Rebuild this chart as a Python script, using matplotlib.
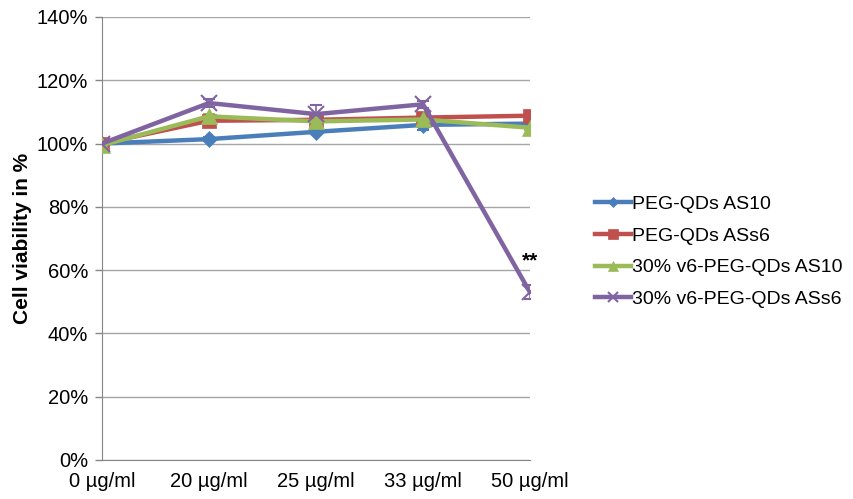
import matplotlib

matplotlib.use("Agg")
import matplotlib.pyplot as plt
from matplotlib.ticker import FuncFormatter

plt.rcParams["font.family"] = ["Liberation Sans", "DejaVu Sans"]

CONCENTRATIONS = ["0 µg/ml", "20 µg/ml", "25 µg/ml", "33 µg/ml", "50 µg/ml"]

PEG_AS10 = [100.0, 101.4, 103.7, 105.9, 106.3]
PEG_AS10_ERR = [0.5, 0.6, 0.8, 1.6, 0.6]
PEG_ASS6 = [100.0, 107.2, 107.5, 108.2, 108.8]
PEG_ASS6_ERR = [0.5, 0.8, 0.8, 0.8, 0.6]
V6_AS10 = [99.5, 108.6, 107.0, 107.6, 105.0]
V6_AS10_ERR = [0.5, 0.8, 0.8, 0.8, 0.6]
V6_ASS6 = [100.0, 112.8, 109.3, 112.4, 53.0]
V6_ASS6_ERR = [0.5, 1.2, 2.8, 1.2, 2.2]

SERIES = [
    ("PEG-QDs AS10", PEG_AS10, PEG_AS10_ERR, "#4a7ebb", "D", 8),
    ("PEG-QDs ASs6", PEG_ASS6, PEG_ASS6_ERR, "#c0504d", "s", 10),
    ("30% v6-PEG-QDs AS10", V6_AS10, V6_AS10_ERR, "#9bbb59", "^", 11),
    ("30% v6-PEG-QDs ASs6", V6_ASS6, V6_ASS6_ERR, "#8064a2", "x", 11),
]

fig = plt.figure(figsize=(8.54, 4.99), dpi=100)
ax = fig.add_axes([0.1194, 0.0782, 0.5012, 0.8878])

x = list(range(len(CONCENTRATIONS)))
for label, values, errors, color, marker, size in SERIES:
    ax.errorbar(x, values, yerr=errors, fmt="none", ecolor=color, elinewidth=1.2,
                capsize=4, capthick=1.5, zorder=3)
    ax.plot(x, values, color=color, linewidth=3.2, marker=marker, markersize=size,
            markeredgewidth=1.5 if marker == "x" else 0.5, label=label, zorder=4)

ax.annotate("**", (4, V6_ASS6[4]), xytext=(0, 16), textcoords="offset points",
            ha="center", va="bottom", fontsize=15, fontweight="bold")

ax.set_xlim(0, 4)
ax.set_ylim(0, 140)
ax.set_yticks(range(0, 141, 20))
ax.yaxis.set_major_formatter(FuncFormatter(lambda v, _: f"{v:.0f}%"))
ax.set_xticks(x)
ax.set_xticklabels(CONCENTRATIONS)
ax.tick_params(labelsize=14.5, colors="#868686", labelcolor="black", length=5, width=1)
ax.tick_params(axis="y", direction="out", pad=5)
ax.tick_params(axis="x", direction="in", length=-5, pad=9)
ax.grid(axis="y", color="#a6a6a6", linewidth=1)
ax.set_axisbelow(True)
for side in ("top", "right"):
    ax.spines[side].set_visible(False)
for side in ("left", "bottom"):
    ax.spines[side].set_color("#868686")
ax.set_ylabel("Cell viability in %", fontsize=15, fontweight="bold", labelpad=3)

ax.legend(loc="center left", bbox_to_anchor=(1.11, 0.47), frameon=False,
          fontsize=14, handlelength=1.85, handletextpad=0.1, labelspacing=0.72,
          markerscale=0.7)

fig.savefig("out.png", dpi=100)
